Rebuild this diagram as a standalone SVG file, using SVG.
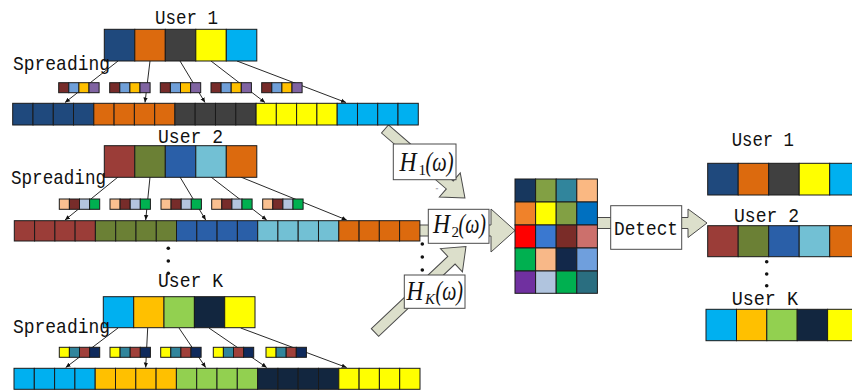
<svg xmlns="http://www.w3.org/2000/svg" width="852" height="391" viewBox="0 0 852 391">
<defs>
<style>
.lbl{font-family:"Liberation Mono","DejaVu Sans Mono",monospace;font-size:21px;fill:#111}
.hl{font-family:"Liberation Serif","Times New Roman",serif;font-size:27px;font-style:italic;fill:#111}
.hs{font-family:"Liberation Serif","Times New Roman",serif;font-size:15px;fill:#111}
.c rect{stroke:#1a1a1a;stroke-width:1}
.ln{stroke:#111;stroke-width:0.9;fill:none;marker-end:url(#ah)}
.blk{fill:#DCDFCB;stroke:#4a4a4a;stroke-width:1}
.box{fill:#fff;stroke:#4a4a4a;stroke-width:1}
.dot{fill:#111}
</style>
<marker id="ah" markerWidth="6" markerHeight="6" refX="5" refY="3" orient="auto" markerUnits="userSpaceOnUse">
<path d="M0,0.8 L5,3 L0,5.2 Z" fill="#111"/>
</marker>
</defs>

<g id="connectors">
<line class="ln" x1="118" y1="61" x2="65" y2="102.5"/>
<line class="ln" x1="150" y1="61" x2="145" y2="102.5"/>
<line class="ln" x1="180" y1="61" x2="205" y2="102.5"/>
<line class="ln" x1="211" y1="61" x2="265" y2="102.5"/>
<line class="ln" x1="237" y1="61" x2="346" y2="102.5"/>
<line class="ln" x1="118" y1="177" x2="65" y2="220"/>
<line class="ln" x1="150" y1="177" x2="145.7" y2="220"/>
<line class="ln" x1="180" y1="177" x2="205.7" y2="220"/>
<line class="ln" x1="211" y1="177" x2="266.7" y2="220"/>
<line class="ln" x1="240.7" y1="177" x2="346.7" y2="220"/>
<line class="ln" x1="118" y1="328" x2="65.7" y2="367.5"/>
<line class="ln" x1="147.7" y1="328" x2="145.7" y2="367.5"/>
<line class="ln" x1="179" y1="328" x2="205.7" y2="367.5"/>
<line class="ln" x1="209" y1="328" x2="266.7" y2="367.5"/>
<line class="ln" x1="240.7" y1="328" x2="346.7" y2="367.5"/>
<polygon class="blk" transform="translate(385,129) rotate(40.8)" points="0,-5.3 85.6,-5.3 85.6,-16 105.6,0 85.6,16 85.6,5.3 0,5.3"/>
<polygon class="blk" points="416,225 491,225 491,209 515,230.5 491,252 491,236 416,236"/>
<polygon class="blk" transform="translate(375,332.5) rotate(-43.4)" points="0,-5.3 105.2,-5.3 105.2,-16 125.2,0 105.2,16 105.2,5.3 0,5.3"/>
<polygon class="blk" points="597,217.5 688,217.5 688,209 707,223 688,237.5 688,228.5 597,228.5"/>
</g>

<g id="user1">
<text class="lbl" x="155" y="24" textLength="63" lengthAdjust="spacingAndGlyphs">User 1</text>
<g class="c">
<rect x="104.3" y="29.3" width="30.5" height="31.7" fill="#1F497D"/>
<rect x="134.8" y="29.3" width="30.5" height="31.7" fill="#DC6A0E"/>
<rect x="165.3" y="29.3" width="30.5" height="31.7" fill="#404040"/>
<rect x="195.8" y="29.3" width="30.5" height="31.7" fill="#FFFF00"/>
<rect x="226.3" y="29.3" width="30.5" height="31.7" fill="#00B0F0"/>
</g>
<text class="lbl" x="13" y="70" textLength="97" lengthAdjust="spacingAndGlyphs">Spreading</text>
<g class="c">
<g transform="translate(58.7,82.7)"><rect width="10.1" height="10" fill="#772C2A"/><rect x="10.1" width="10.1" height="10" fill="#6F9FD8"/><rect x="20.2" width="10.1" height="10" fill="#FFC000"/><rect x="30.3" width="10.1" height="10" fill="#8064A2"/></g>
<g transform="translate(109.7,82.7)"><rect width="10.1" height="10" fill="#772C2A"/><rect x="10.1" width="10.1" height="10" fill="#6F9FD8"/><rect x="20.2" width="10.1" height="10" fill="#FFC000"/><rect x="30.3" width="10.1" height="10" fill="#8064A2"/></g>
<g transform="translate(160.3,82.7)"><rect width="10.1" height="10" fill="#772C2A"/><rect x="10.1" width="10.1" height="10" fill="#6F9FD8"/><rect x="20.2" width="10.1" height="10" fill="#FFC000"/><rect x="30.3" width="10.1" height="10" fill="#8064A2"/></g>
<g transform="translate(211,82.7)"><rect width="10.1" height="10" fill="#772C2A"/><rect x="10.1" width="10.1" height="10" fill="#6F9FD8"/><rect x="20.2" width="10.1" height="10" fill="#FFC000"/><rect x="30.3" width="10.1" height="10" fill="#8064A2"/></g>
<g transform="translate(261.7,82.7)"><rect width="10.1" height="10" fill="#772C2A"/><rect x="10.1" width="10.1" height="10" fill="#6F9FD8"/><rect x="20.2" width="10.1" height="10" fill="#FFC000"/><rect x="30.3" width="10.1" height="10" fill="#8064A2"/></g>
</g>
<g class="c">
<rect x="12.7" y="103.3" width="20.28" height="21.7" fill="#1F497D"/>
<rect x="33.0" y="103.3" width="20.28" height="21.7" fill="#1F497D"/>
<rect x="53.3" y="103.3" width="20.28" height="21.7" fill="#1F497D"/>
<rect x="73.5" y="103.3" width="20.28" height="21.7" fill="#1F497D"/>
<rect x="93.8" y="103.3" width="20.28" height="21.7" fill="#DC6A0E"/>
<rect x="114.1" y="103.3" width="20.28" height="21.7" fill="#DC6A0E"/>
<rect x="134.4" y="103.3" width="20.28" height="21.7" fill="#DC6A0E"/>
<rect x="154.7" y="103.3" width="20.28" height="21.7" fill="#DC6A0E"/>
<rect x="174.9" y="103.3" width="20.28" height="21.7" fill="#404040"/>
<rect x="195.2" y="103.3" width="20.28" height="21.7" fill="#404040"/>
<rect x="215.5" y="103.3" width="20.28" height="21.7" fill="#404040"/>
<rect x="235.8" y="103.3" width="20.28" height="21.7" fill="#404040"/>
<rect x="256.1" y="103.3" width="20.28" height="21.7" fill="#FFFF00"/>
<rect x="276.3" y="103.3" width="20.28" height="21.7" fill="#FFFF00"/>
<rect x="296.6" y="103.3" width="20.28" height="21.7" fill="#FFFF00"/>
<rect x="316.9" y="103.3" width="20.28" height="21.7" fill="#FFFF00"/>
<rect x="337.2" y="103.3" width="20.28" height="21.7" fill="#00B0F0"/>
<rect x="357.5" y="103.3" width="20.28" height="21.7" fill="#00B0F0"/>
<rect x="377.7" y="103.3" width="20.28" height="21.7" fill="#00B0F0"/>
<rect x="398.0" y="103.3" width="20.28" height="21.7" fill="#00B0F0"/>
</g>
</g>

<g id="user2">
<text class="lbl" x="158" y="143" textLength="65" lengthAdjust="spacingAndGlyphs">User 2</text>
<g class="c">
<rect x="104.3" y="145.7" width="30.5" height="31.6" fill="#9B3D38"/>
<rect x="134.8" y="145.7" width="30.5" height="31.6" fill="#6B8035"/>
<rect x="165.3" y="145.7" width="30.5" height="31.6" fill="#2A5FA8"/>
<rect x="195.8" y="145.7" width="30.5" height="31.6" fill="#72C0D4"/>
<rect x="226.3" y="145.7" width="30.5" height="31.6" fill="#DC6A0E"/>
</g>
<text class="lbl" x="11" y="184" textLength="95" lengthAdjust="spacingAndGlyphs">Spreading</text>
<g class="c">
<g transform="translate(59.3,199)"><rect width="10.1" height="10.3" fill="#FAC090"/><rect x="10.1" width="10.1" height="10.3" fill="#772C2A"/><rect x="20.2" width="10.1" height="10.3" fill="#B3C5DE"/><rect x="30.3" width="10.1" height="10.3" fill="#00B050"/></g>
<g transform="translate(110,199)"><rect width="10.1" height="10.3" fill="#FAC090"/><rect x="10.1" width="10.1" height="10.3" fill="#772C2A"/><rect x="20.2" width="10.1" height="10.3" fill="#B3C5DE"/><rect x="30.3" width="10.1" height="10.3" fill="#00B050"/></g>
<g transform="translate(161,199)"><rect width="10.1" height="10.3" fill="#FAC090"/><rect x="10.1" width="10.1" height="10.3" fill="#772C2A"/><rect x="20.2" width="10.1" height="10.3" fill="#B3C5DE"/><rect x="30.3" width="10.1" height="10.3" fill="#00B050"/></g>
<g transform="translate(211.7,199)"><rect width="10.1" height="10.3" fill="#FAC090"/><rect x="10.1" width="10.1" height="10.3" fill="#772C2A"/><rect x="20.2" width="10.1" height="10.3" fill="#B3C5DE"/><rect x="30.3" width="10.1" height="10.3" fill="#00B050"/></g>
<g transform="translate(262.7,199)"><rect width="10.1" height="10.3" fill="#FAC090"/><rect x="10.1" width="10.1" height="10.3" fill="#772C2A"/><rect x="20.2" width="10.1" height="10.3" fill="#B3C5DE"/><rect x="30.3" width="10.1" height="10.3" fill="#00B050"/></g>
</g>
<g class="c">
<rect x="14.3" y="220.7" width="20.28" height="20.3" fill="#9B3D38"/>
<rect x="34.6" y="220.7" width="20.28" height="20.3" fill="#9B3D38"/>
<rect x="54.9" y="220.7" width="20.28" height="20.3" fill="#9B3D38"/>
<rect x="75.1" y="220.7" width="20.28" height="20.3" fill="#9B3D38"/>
<rect x="95.4" y="220.7" width="20.28" height="20.3" fill="#6B8035"/>
<rect x="115.7" y="220.7" width="20.28" height="20.3" fill="#6B8035"/>
<rect x="136.0" y="220.7" width="20.28" height="20.3" fill="#6B8035"/>
<rect x="156.3" y="220.7" width="20.28" height="20.3" fill="#6B8035"/>
<rect x="176.5" y="220.7" width="20.28" height="20.3" fill="#2A5FA8"/>
<rect x="196.8" y="220.7" width="20.28" height="20.3" fill="#2A5FA8"/>
<rect x="217.1" y="220.7" width="20.28" height="20.3" fill="#2A5FA8"/>
<rect x="237.4" y="220.7" width="20.28" height="20.3" fill="#2A5FA8"/>
<rect x="257.7" y="220.7" width="20.28" height="20.3" fill="#72C0D4"/>
<rect x="277.9" y="220.7" width="20.28" height="20.3" fill="#72C0D4"/>
<rect x="298.2" y="220.7" width="20.28" height="20.3" fill="#72C0D4"/>
<rect x="318.5" y="220.7" width="20.28" height="20.3" fill="#72C0D4"/>
<rect x="338.8" y="220.7" width="20.28" height="20.3" fill="#DC6A0E"/>
<rect x="359.1" y="220.7" width="20.28" height="20.3" fill="#DC6A0E"/>
<rect x="379.3" y="220.7" width="20.28" height="20.3" fill="#DC6A0E"/>
<rect x="399.6" y="220.7" width="20.28" height="20.3" fill="#DC6A0E"/>
</g>
</g>

<g id="dots-left">
<circle class="dot" cx="168.3" cy="248.3" r="1.8"/>
<circle class="dot" cx="168.3" cy="261" r="1.8"/>
<circle class="dot" cx="168.3" cy="273.3" r="1.8"/>
</g>

<g id="userK">
<text class="lbl" x="158" y="286.7" textLength="65" lengthAdjust="spacingAndGlyphs">User K</text>
<g class="c">
<rect x="103.3" y="296.7" width="30.4" height="31" fill="#00B0F0"/>
<rect x="133.7" y="296.7" width="30.3" height="31" fill="#FFC000"/>
<rect x="164.0" y="296.7" width="30.4" height="31" fill="#92D050"/>
<rect x="194.4" y="296.7" width="30.3" height="31" fill="#12263F"/>
<rect x="224.7" y="296.7" width="30.3" height="31" fill="#FFFF00"/>
</g>
<text class="lbl" x="13" y="333.3" textLength="97" lengthAdjust="spacingAndGlyphs">Spreading</text>
<g class="c">
<g transform="translate(59.3,347.3)"><rect width="10.1" height="10" fill="#FFFF00"/><rect x="10.1" width="10.1" height="10" fill="#31859C"/><rect x="20.2" width="10.1" height="10" fill="#A0403A"/><rect x="30.3" width="10.1" height="10" fill="#0F2A5C"/></g>
<g transform="translate(110,347.3)"><rect width="10.1" height="10" fill="#FFFF00"/><rect x="10.1" width="10.1" height="10" fill="#31859C"/><rect x="20.2" width="10.1" height="10" fill="#A0403A"/><rect x="30.3" width="10.1" height="10" fill="#0F2A5C"/></g>
<g transform="translate(160.7,347.3)"><rect width="10.1" height="10" fill="#FFFF00"/><rect x="10.1" width="10.1" height="10" fill="#31859C"/><rect x="20.2" width="10.1" height="10" fill="#A0403A"/><rect x="30.3" width="10.1" height="10" fill="#0F2A5C"/></g>
<g transform="translate(213.3,347.3)"><rect width="10.1" height="10" fill="#FFFF00"/><rect x="10.1" width="10.1" height="10" fill="#31859C"/><rect x="20.2" width="10.1" height="10" fill="#A0403A"/><rect x="30.3" width="10.1" height="10" fill="#0F2A5C"/></g>
<g transform="translate(266,347.3)"><rect width="10.1" height="10" fill="#FFFF00"/><rect x="10.1" width="10.1" height="10" fill="#31859C"/><rect x="20.2" width="10.1" height="10" fill="#A0403A"/><rect x="30.3" width="10.1" height="10" fill="#0F2A5C"/></g>
</g>
<g class="c">
<rect x="14" y="368.3" width="20.3" height="21" fill="#00B0F0"/>
<rect x="34.3" y="368.3" width="20.3" height="21" fill="#00B0F0"/>
<rect x="54.6" y="368.3" width="20.3" height="21" fill="#00B0F0"/>
<rect x="74.9" y="368.3" width="20.3" height="21" fill="#00B0F0"/>
<rect x="95.2" y="368.3" width="20.3" height="21" fill="#FFC000"/>
<rect x="115.5" y="368.3" width="20.3" height="21" fill="#FFC000"/>
<rect x="135.8" y="368.3" width="20.3" height="21" fill="#FFC000"/>
<rect x="156.1" y="368.3" width="20.3" height="21" fill="#FFC000"/>
<rect x="176.4" y="368.3" width="20.3" height="21" fill="#92D050"/>
<rect x="196.7" y="368.3" width="20.3" height="21" fill="#92D050"/>
<rect x="217.0" y="368.3" width="20.3" height="21" fill="#92D050"/>
<rect x="237.3" y="368.3" width="20.3" height="21" fill="#92D050"/>
<rect x="257.6" y="368.3" width="20.3" height="21" fill="#12263F"/>
<rect x="277.9" y="368.3" width="20.3" height="21" fill="#12263F"/>
<rect x="298.2" y="368.3" width="20.3" height="21" fill="#12263F"/>
<rect x="318.5" y="368.3" width="20.3" height="21" fill="#12263F"/>
<rect x="338.8" y="368.3" width="20.3" height="21" fill="#FFFF00"/>
<rect x="359.1" y="368.3" width="20.3" height="21" fill="#FFFF00"/>
<rect x="379.4" y="368.3" width="20.3" height="21" fill="#FFFF00"/>
<rect x="399.7" y="368.3" width="20.3" height="21" fill="#FFFF00"/>
</g>
</g>

<g id="channel-H1">
<rect class="box" x="393.3" y="144" width="62.7" height="35.7"/>
<text class="hl" x="399.5" y="171" textLength="17" lengthAdjust="spacingAndGlyphs">H</text>
<text class="hs" x="418.5" y="175">1</text>
<text class="hl" x="425.5" y="171" textLength="28" lengthAdjust="spacingAndGlyphs">(ω)</text>
<text x="435.5" y="192" font-family="Liberation Serif,serif" font-size="7" fill="#666">"</text>
</g>
<g id="channel-H2">
<rect class="box" x="428.3" y="209.3" width="60.7" height="34"/>
<text class="hl" x="433" y="233.3" textLength="17" lengthAdjust="spacingAndGlyphs">H</text>
<text class="hs" x="451.5" y="237.3">2</text>
<text class="hl" x="458.5" y="233.3" textLength="27.5" lengthAdjust="spacingAndGlyphs">(ω)</text>
</g>
<g id="dots-mid">
<circle class="dot" cx="422.3" cy="244" r="1.8"/>
<circle class="dot" cx="422.3" cy="257" r="1.8"/>
<circle class="dot" cx="422.3" cy="270" r="1.8"/>
</g>
<g id="channel-HK">
<rect class="box" x="404.3" y="275" width="60.7" height="33.3"/>
<text class="hl" x="406.5" y="300" textLength="17" lengthAdjust="spacingAndGlyphs">H</text>
<text class="hs" x="425" y="304" font-style="italic">K</text>
<text class="hl" x="435.5" y="300" textLength="27.5" lengthAdjust="spacingAndGlyphs">(ω)</text>
</g>

<g id="matrix" class="c">
<rect x="515" y="179" width="20.6" height="23" fill="#17375E"/>
<rect x="535.6" y="179" width="20.6" height="23" fill="#82A044"/>
<rect x="556.2" y="179" width="20.6" height="23" fill="#31859C"/>
<rect x="576.8" y="179" width="20.6" height="23" fill="#FAB882"/>
<rect x="515" y="202" width="20.6" height="23" fill="#F0822A"/>
<rect x="535.6" y="202" width="20.6" height="23" fill="#FFFF00"/>
<rect x="556.2" y="202" width="20.6" height="23" fill="#82A044"/>
<rect x="576.8" y="202" width="20.6" height="23" fill="#0070C0"/>
<rect x="515" y="225" width="20.6" height="23" fill="#FF0000"/>
<rect x="535.6" y="225" width="20.6" height="23" fill="#3A78D0"/>
<rect x="556.2" y="225" width="20.6" height="23" fill="#7A2C28"/>
<rect x="576.8" y="225" width="20.6" height="23" fill="#CC706C"/>
<rect x="515" y="248" width="20.6" height="23" fill="#00B050"/>
<rect x="535.6" y="248" width="20.6" height="23" fill="#F8B888"/>
<rect x="556.2" y="248" width="20.6" height="23" fill="#12284A"/>
<rect x="576.8" y="248" width="20.6" height="23" fill="#6F9FDD"/>
<rect x="515" y="271" width="20.6" height="22.3" fill="#7030A0"/>
<rect x="535.6" y="271" width="20.6" height="22.3" fill="#B0C4DE"/>
<rect x="556.2" y="271" width="20.6" height="22.3" fill="#00B050"/>
<rect x="576.8" y="271" width="20.6" height="22.3" fill="#2A6E80"/>
</g>

<g id="detect">
<rect class="box" x="610.7" y="205.7" width="71" height="43.6"/>
<text class="lbl" x="614" y="235" textLength="64" lengthAdjust="spacingAndGlyphs">Detect</text>
</g>

<g id="out-user1">
<text class="lbl" x="731.7" y="146" textLength="62.3" lengthAdjust="spacingAndGlyphs">User 1</text>
<g class="c">
<rect x="707.7" y="163.3" width="30.5" height="31.7" fill="#1F497D"/>
<rect x="738.2" y="163.3" width="30.5" height="31.7" fill="#DC6A0E"/>
<rect x="768.7" y="163.3" width="30.5" height="31.7" fill="#404040"/>
<rect x="799.2" y="163.3" width="30.5" height="31.7" fill="#FFFF00"/>
<rect x="829.7" y="163.3" width="30.5" height="31.7" fill="#00B0F0"/>
</g>
</g>
<g id="out-user2">
<text class="lbl" x="734" y="221.7" textLength="65" lengthAdjust="spacingAndGlyphs">User 2</text>
<g class="c">
<rect x="707.7" y="225.7" width="30.5" height="31" fill="#9B3D38"/>
<rect x="738.2" y="225.7" width="30.5" height="31" fill="#6B8035"/>
<rect x="768.7" y="225.7" width="30.5" height="31" fill="#2A5FA8"/>
<rect x="799.2" y="225.7" width="30.5" height="31" fill="#72C0D4"/>
<rect x="829.7" y="225.7" width="30.5" height="31" fill="#DC6A0E"/>
</g>
</g>
<g id="dots-right">
<circle class="dot" cx="766.7" cy="261.7" r="1.8"/>
<circle class="dot" cx="766.7" cy="274" r="1.8"/>
<circle class="dot" cx="766.7" cy="285.7" r="1.8"/>
</g>
<g id="out-userK">
<text class="lbl" x="731.7" y="305" textLength="66.3" lengthAdjust="spacingAndGlyphs">User K</text>
<g class="c">
<rect x="706" y="309.3" width="30.5" height="31.4" fill="#00B0F0"/>
<rect x="736.5" y="309.3" width="30.3" height="31.4" fill="#FFC000"/>
<rect x="766.8" y="309.3" width="30.4" height="31.4" fill="#92D050"/>
<rect x="797.2" y="309.3" width="30.4" height="31.4" fill="#12263F"/>
<rect x="827.6" y="309.3" width="30.4" height="31.4" fill="#FFFF00"/>
</g>
</g>
</svg>
